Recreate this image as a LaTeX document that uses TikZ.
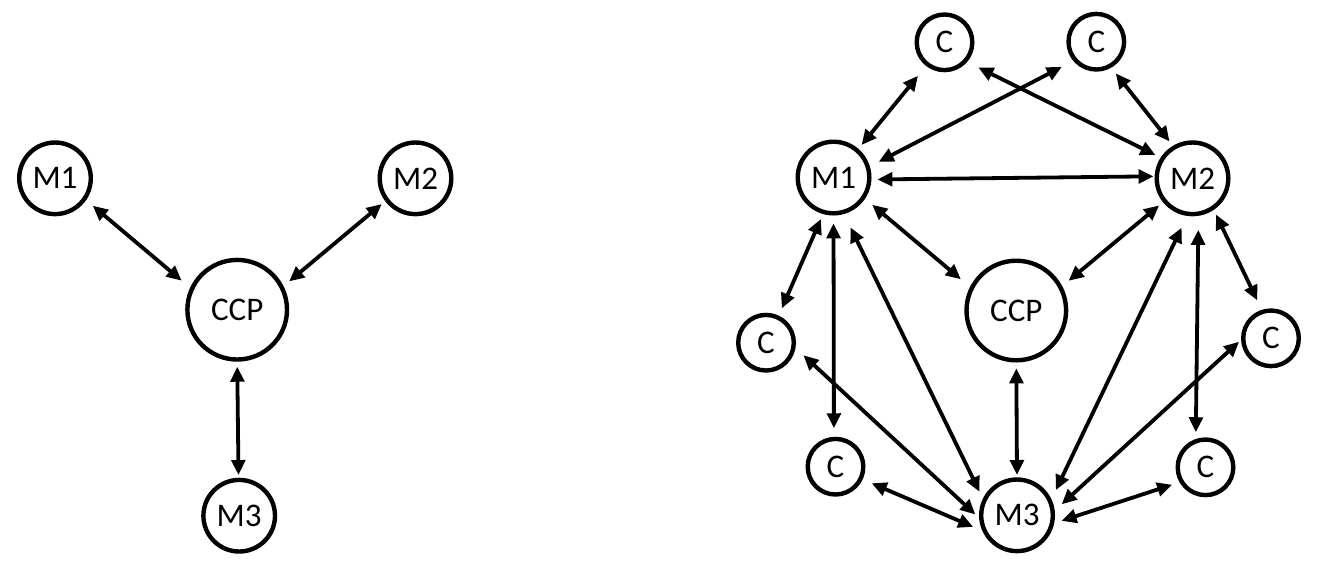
\documentclass[tikz,border=0pt]{standalone}
\usepackage{fontspec}
\setmainfont{Carlito}
\usetikzlibrary{arrows.meta}
\begin{document}
\begin{tikzpicture}[x=0.5pt,y=-0.5pt,
  nd/.style={circle,draw,line width=2.2pt,inner sep=0pt,font=\fontsize{16.5pt}{20pt}\selectfont},
  mnode/.style={nd,minimum size=35.8pt},
  cnode/.style={nd,minimum size=27.8pt},
  ccpnode/.style={nd,minimum size=49.8pt},
  link/.style={line width=1.9pt,{Triangle[length=7.5pt,width=6.8pt]}-{Triangle[length=7.5pt,width=6.8pt]}},
]
\useasboundingbox (0,0) rectangle (1320,570);
% left diagram
\node[mnode] (lm1) at (55,178.3) {M1};
\node[mnode] (lm2) at (415.5,178.3) {M2};
\node[ccpnode] (lccp) at (237.2,309.7) {CCP};
\node[mnode] (lm3) at (239.2,515.7) {M3};
\draw[link,shorten <=4.35pt,shorten >=5.5pt] (lm1.-35) -- (lccp.155);
\draw[link,shorten <=2.25pt,shorten >=3.65pt] (lm2.-143) -- (lccp.27);
\draw[link,shorten <=2.5pt,shorten >=1.35pt] (lccp.-90) -- (lm3.91);
% right diagram
\node[mnode] (m1) at (833.5,177.5) {M1};
\node[mnode] (m2) at (1192.5,178.3) {M2};
\node[cnode] (ctl) at (944.5,42.3) {C};
\node[cnode] (ctr) at (1096.3,41.7) {C};
\node[cnode] (cl) at (766,342.7) {C};
\node[cnode] (cll) at (835.5,466.7) {C};
\node[ccpnode] (ccp) at (1016.3,310.5) {CCP};
\node[mnode] (m3) at (1017,515.3) {M3};
\node[cnode] (cr) at (1271,338.3) {C};
\node[cnode] (clr) at (1205.5,467.3) {C};
\draw[link,shorten <=6.35pt,shorten >=2.5pt] (ctl.-128) -- (m1.49);
\draw[link,shorten <=6.5pt,shorten >=5pt] (ctr.-140) -- (m1.17);
\draw[link,shorten <=6.25pt,shorten >=2.9pt] (ctl.-41) -- (m2.147.5);
\draw[link,shorten <=3.65pt,shorten >=2.75pt] (ctr.-60) -- (m2.121.6);
\draw[link,shorten <=2.95pt,shorten >=0.5pt] (m1.-3.3) -- (m2.177.6);
\draw[link,shorten <=4.65pt,shorten >=5.95pt] (m1.-34) -- (ccp.153);
\draw[link,shorten <=2.5pt,shorten >=4.15pt] (m2.-141) -- (ccp.28.5);
\draw[link,shorten <=2.7pt,shorten >=3.9pt] (m1.-106) -- (cl.65.5);
\draw[link,shorten <=3.9pt,shorten >=4.25pt] (m1.-90) -- (cll.93);
\draw[link,shorten <=7.45pt,shorten >=3.85pt] (m1.-74) -- (m3.154);
\draw[link,shorten <=5.35pt,shorten >=2.55pt] (cl.-10) -- (m3.-176);
\draw[link,shorten <=4.9pt,shorten >=4.95pt] (cll.-25) -- (m3.-156);
\draw[link,shorten <=2.9pt,shorten >=1.15pt] (ccp.-90) -- (m3.90);
\draw[link,shorten <=6.5pt,shorten >=5.1pt] (m2.-98.5) -- (m3.25);
\draw[link,shorten <=7pt,shorten >=3.35pt] (m2.-81.6) -- (clr.109.4);
\draw[link,shorten <=2.6pt,shorten >=5.2pt] (m2.-56.6) -- (cr.108.3);
\draw[link,shorten <=1.35pt,shorten >=4.7pt] (cr.-177) -- (m3.7.3);
\draw[link,shorten <=3.9pt,shorten >=3.85pt] (clr.-150) -- (m3.-12.2);
\end{tikzpicture}
\end{document}
